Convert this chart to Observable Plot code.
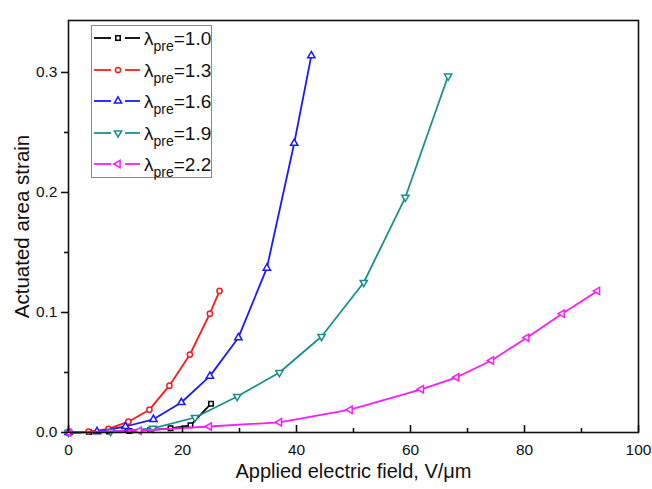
<!DOCTYPE html>
<html>
<head>
<meta charset="utf-8">
<script src="https://cdn.jsdelivr.net/npm/d3@7"></script>
<script src="https://cdn.jsdelivr.net/npm/@observablehq/plot@0.6"></script>
<style>
  html, body { margin: 0; padding: 0; background: #fff; }
  #wrap { position: relative; width: 652px; height: 489px; font-family: "Liberation Sans", Arial, sans-serif; }
  #legend { position: absolute; left: 91px; top: 25px; width: 121px; height: 153px; border: 1.5px solid #888; background: #fff; box-sizing: border-box; }
  .row { position: absolute; left: 0; height: 30px; width: 120px; }
  .row svg { position: absolute; left: 0; top: 0; }
  .lab { position: absolute; left: 52px; top: 1px; font-size: 19px; color: #111; white-space: nowrap; line-height: 24px; }
  .lab sub { font-size: 14px; vertical-align: -6px; line-height: 0; }
</style>
</head>
<body>
<div id="wrap"><div id="chart"></div><div id="legend"></div></div>
<script>
// ---- data ----
const seriesNames = ["1.0", "1.3", "1.6", "1.9", "2.2"];
const seriesColors = ["#000000", "#ff1a1a", "#1a1aff", "#1a8f8f", "#ff1aff"];
const seriesSymbols = ["square", "circle", "triangleUp", "triangleDown", "triangleLeft"];

const x10 = [0, 3.6, 7.1, 10.7, 14.3, 17.9, 21.4, 25.0];
const y10 = [0, 0.0003, 0.0007, 0.0012, 0.002, 0.0035, 0.006, 0.024];

const x13 = [0, 3.5, 7.0, 10.5, 14.2, 17.7, 21.3, 24.8, 26.5];
const y13 = [0, 0.0008, 0.003, 0.009, 0.019, 0.039, 0.065, 0.099, 0.118];

const x16 = [0, 5.0, 10.0, 14.9, 19.8, 24.8, 29.8, 34.8, 39.6, 42.6];
const y16 = [0, 0.0008, 0.005, 0.011, 0.025, 0.047, 0.079, 0.137, 0.241, 0.314];

const x19 = [0, 7.4, 14.8, 22.2, 29.6, 37.0, 44.4, 51.8, 59.1, 66.6];
const y19 = [0, 0.0008, 0.0035, 0.0125, 0.030, 0.050, 0.080, 0.125, 0.196, 0.297];

const x22 = [0, 12.4, 24.7, 37.0, 49.4, 61.9, 68.1, 74.2, 80.4, 86.6, 92.8];
const y22 = [0, 0.0015, 0.005, 0.0085, 0.019, 0.036, 0.046, 0.060, 0.079, 0.099, 0.118];

const xMajorTicks = [0, 20, 40, 60, 80, 100];
const xMinorTicks = [10, 30, 50, 70, 90];
const yMajorTicks = [0, 0.1, 0.2, 0.3];
const yMinorTicks = [0.05, 0.15, 0.25];

const xs = [x10, x13, x16, x19, x22];
const ys = [y10, y13, y16, y19, y22];

// ---- custom symbols ----
const sqrt3 = Math.sqrt(3);
const symbolDefs = {
  square: d3.symbolSquare,
  circle: d3.symbolCircle,
  triangleUp: d3.symbolTriangle,
  triangleDown: {draw(ctx, size) {
    const y = -Math.sqrt(size / (sqrt3 * 3));
    ctx.moveTo(0, -y * 2); ctx.lineTo(-sqrt3 * y, y); ctx.lineTo(sqrt3 * y, y); ctx.closePath();
  }},
  triangleLeft: {draw(ctx, size) {
    const y = -Math.sqrt(size / (sqrt3 * 3));
    ctx.moveTo(y * 2, 0); ctx.lineTo(-y, -sqrt3 * y); ctx.lineTo(-y, sqrt3 * y); ctx.closePath();
  }}
};
const symbolSizes = {square: 2.5, circle: 2.6, triangleUp: 2.7, triangleDown: 2.7, triangleLeft: 2.7};

const data = [];
seriesNames.forEach((name, i) => {
  xs[i].forEach((x, j) => data.push({series: name, x, y: ys[i][j]}));
});

const marks = [];
seriesNames.forEach((name, i) => {
  const d = data.filter(p => p.series === name);
  marks.push(Plot.line(d, {x: "x", y: "y", stroke: seriesColors[i], strokeWidth: 1.8}));
  marks.push(Plot.dot(d, {x: "x", y: "y", stroke: seriesColors[i], fill: "white", strokeWidth: 1.5,
    symbol: symbolDefs[seriesSymbols[i]], r: symbolSizes[seriesSymbols[i]]}));
});

const chart = Plot.plot({
  width: 652,
  height: 489,
  marginLeft: 68,
  marginRight: 14,
  marginTop: 20,
  marginBottom: 57,
  style: {fontFamily: "Liberation Sans, Arial, sans-serif", fontSize: "15.5px", color: "#111", background: "white"},
  x: {domain: [0, 100]},
  y: {domain: [0, 0.3433]},
  marks: [
    ...marks,
    Plot.frame({stroke: "#111", strokeWidth: 1.6}),
    Plot.axisX(xMajorTicks, {tickSize: -7, tickPadding: 18, strokeWidth: 1.6, tickFormat: d => String(d), label: null}),
    Plot.axisX(xMinorTicks, {tickSize: -4, strokeWidth: 1.6, tickFormat: null, text: null, label: null}),
    Plot.axisY(yMajorTicks, {tickSize: 7, tickPadding: 4, strokeWidth: 1.6, tickFormat: d3.format(".1f"), label: null}),
    Plot.axisY(yMinorTicks, {tickSize: 4, strokeWidth: 1.6, text: null, label: null}),
    Plot.text(["Applied electric field, V/\u03bcm"], {frameAnchor: "bottom", dy: 31, fontSize: 20, lineAnchor: "top", textAnchor: "middle", fill: "#111"}),
    Plot.text(["Actuated area strain"], {frameAnchor: "left", dx: -46, rotate: -90, fontSize: 20.5, textAnchor: "middle", fill: "#111"})
  ]
});
document.getElementById("chart").appendChild(chart);

// ---- legend ----
const legend = document.getElementById("legend");
seriesNames.forEach((name, i) => {
  const row = document.createElement("div");
  row.className = "row";
  row.style.top = (i * 31.5) + "px";
  const svg = d3.create("svg").attr("width", 52).attr("height", 26);
  svg.append("line").attr("x1", 2).attr("x2", 19).attr("y1", 12).attr("y2", 12).attr("stroke", seriesColors[i]).attr("stroke-width", 1.8);
  svg.append("line").attr("x1", 33).attr("x2", 48).attr("y1", 12).attr("y2", 12).attr("stroke", seriesColors[i]).attr("stroke-width", 1.8);
  const r = symbolSizes[seriesSymbols[i]];
  svg.append("path").attr("transform", "translate(26,12)")
    .attr("d", d3.symbol(symbolDefs[seriesSymbols[i]], Math.PI * r * r)())
    .attr("fill", "white").attr("stroke", seriesColors[i]).attr("stroke-width", 1.5);
  row.appendChild(svg.node());
  const lab = document.createElement("div");
  lab.className = "lab";
  lab.innerHTML = "\u03bb<sub>pre</sub>=" + name;
  row.appendChild(lab);
  legend.appendChild(row);
});
</script>
</body>
</html>
